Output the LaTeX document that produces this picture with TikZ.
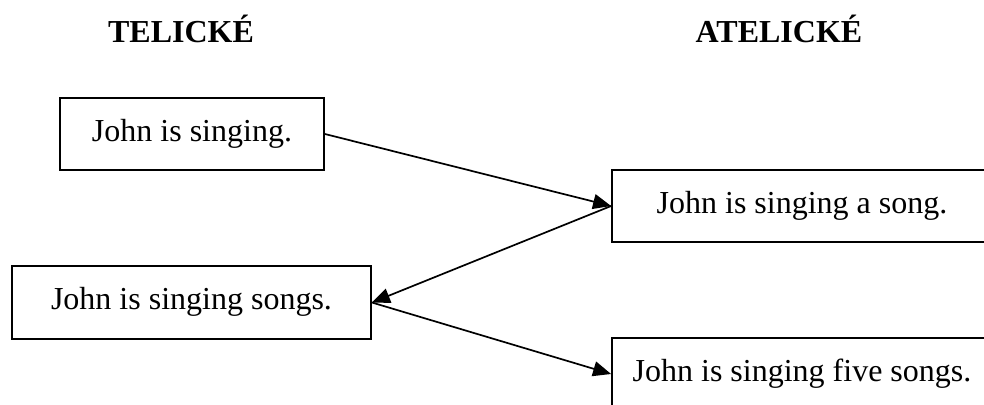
\documentclass[tikz,border=0pt]{standalone}
\usepackage{fontspec}
\setmainfont{Liberation Serif}
\usetikzlibrary{arrows.meta}
\begin{document}
\begin{tikzpicture}[x=0.5pt,y=-0.5pt,
  sent/.style={draw=black, line width=0.9pt, fill=white, font=\fontsize{16}{19}\selectfont, inner sep=0pt, text depth=3.5pt, text height=11pt},
  ttl/.style={font=\fontsize{16}{19}\selectfont\bfseries, anchor=base, inner sep=0pt},
  conn/.style={line width=0.85pt, -{Triangle[length=9pt,width=7.5pt]}}]
\useasboundingbox (0,0) rectangle (984,405);
\node[ttl] (tel) at (181,43) {TELICKÉ};
\node[ttl] (atel) at (779,43) {ATELICKÉ};
\node[sent, minimum width=132pt, minimum height=36pt] (b1) at (192,134) {John is singing.};
\node[sent, minimum width=190pt, minimum height=36pt] (b2) at (802,206) {John is singing a song.};
\node[sent, minimum width=179.5pt, minimum height=36.5pt] (b3) at (191.5,302.5) {John is singing songs.};
\node[sent, minimum width=190pt, minimum height=36pt] (b4) at (802,374) {John is singing five songs.};
\draw[conn] (b1.east) -- (b2.west);
\draw[conn] (b2.west) -- (b3.east);
\draw[conn] (b3.east) -- (b4.west);
\end{tikzpicture}
\end{document}
